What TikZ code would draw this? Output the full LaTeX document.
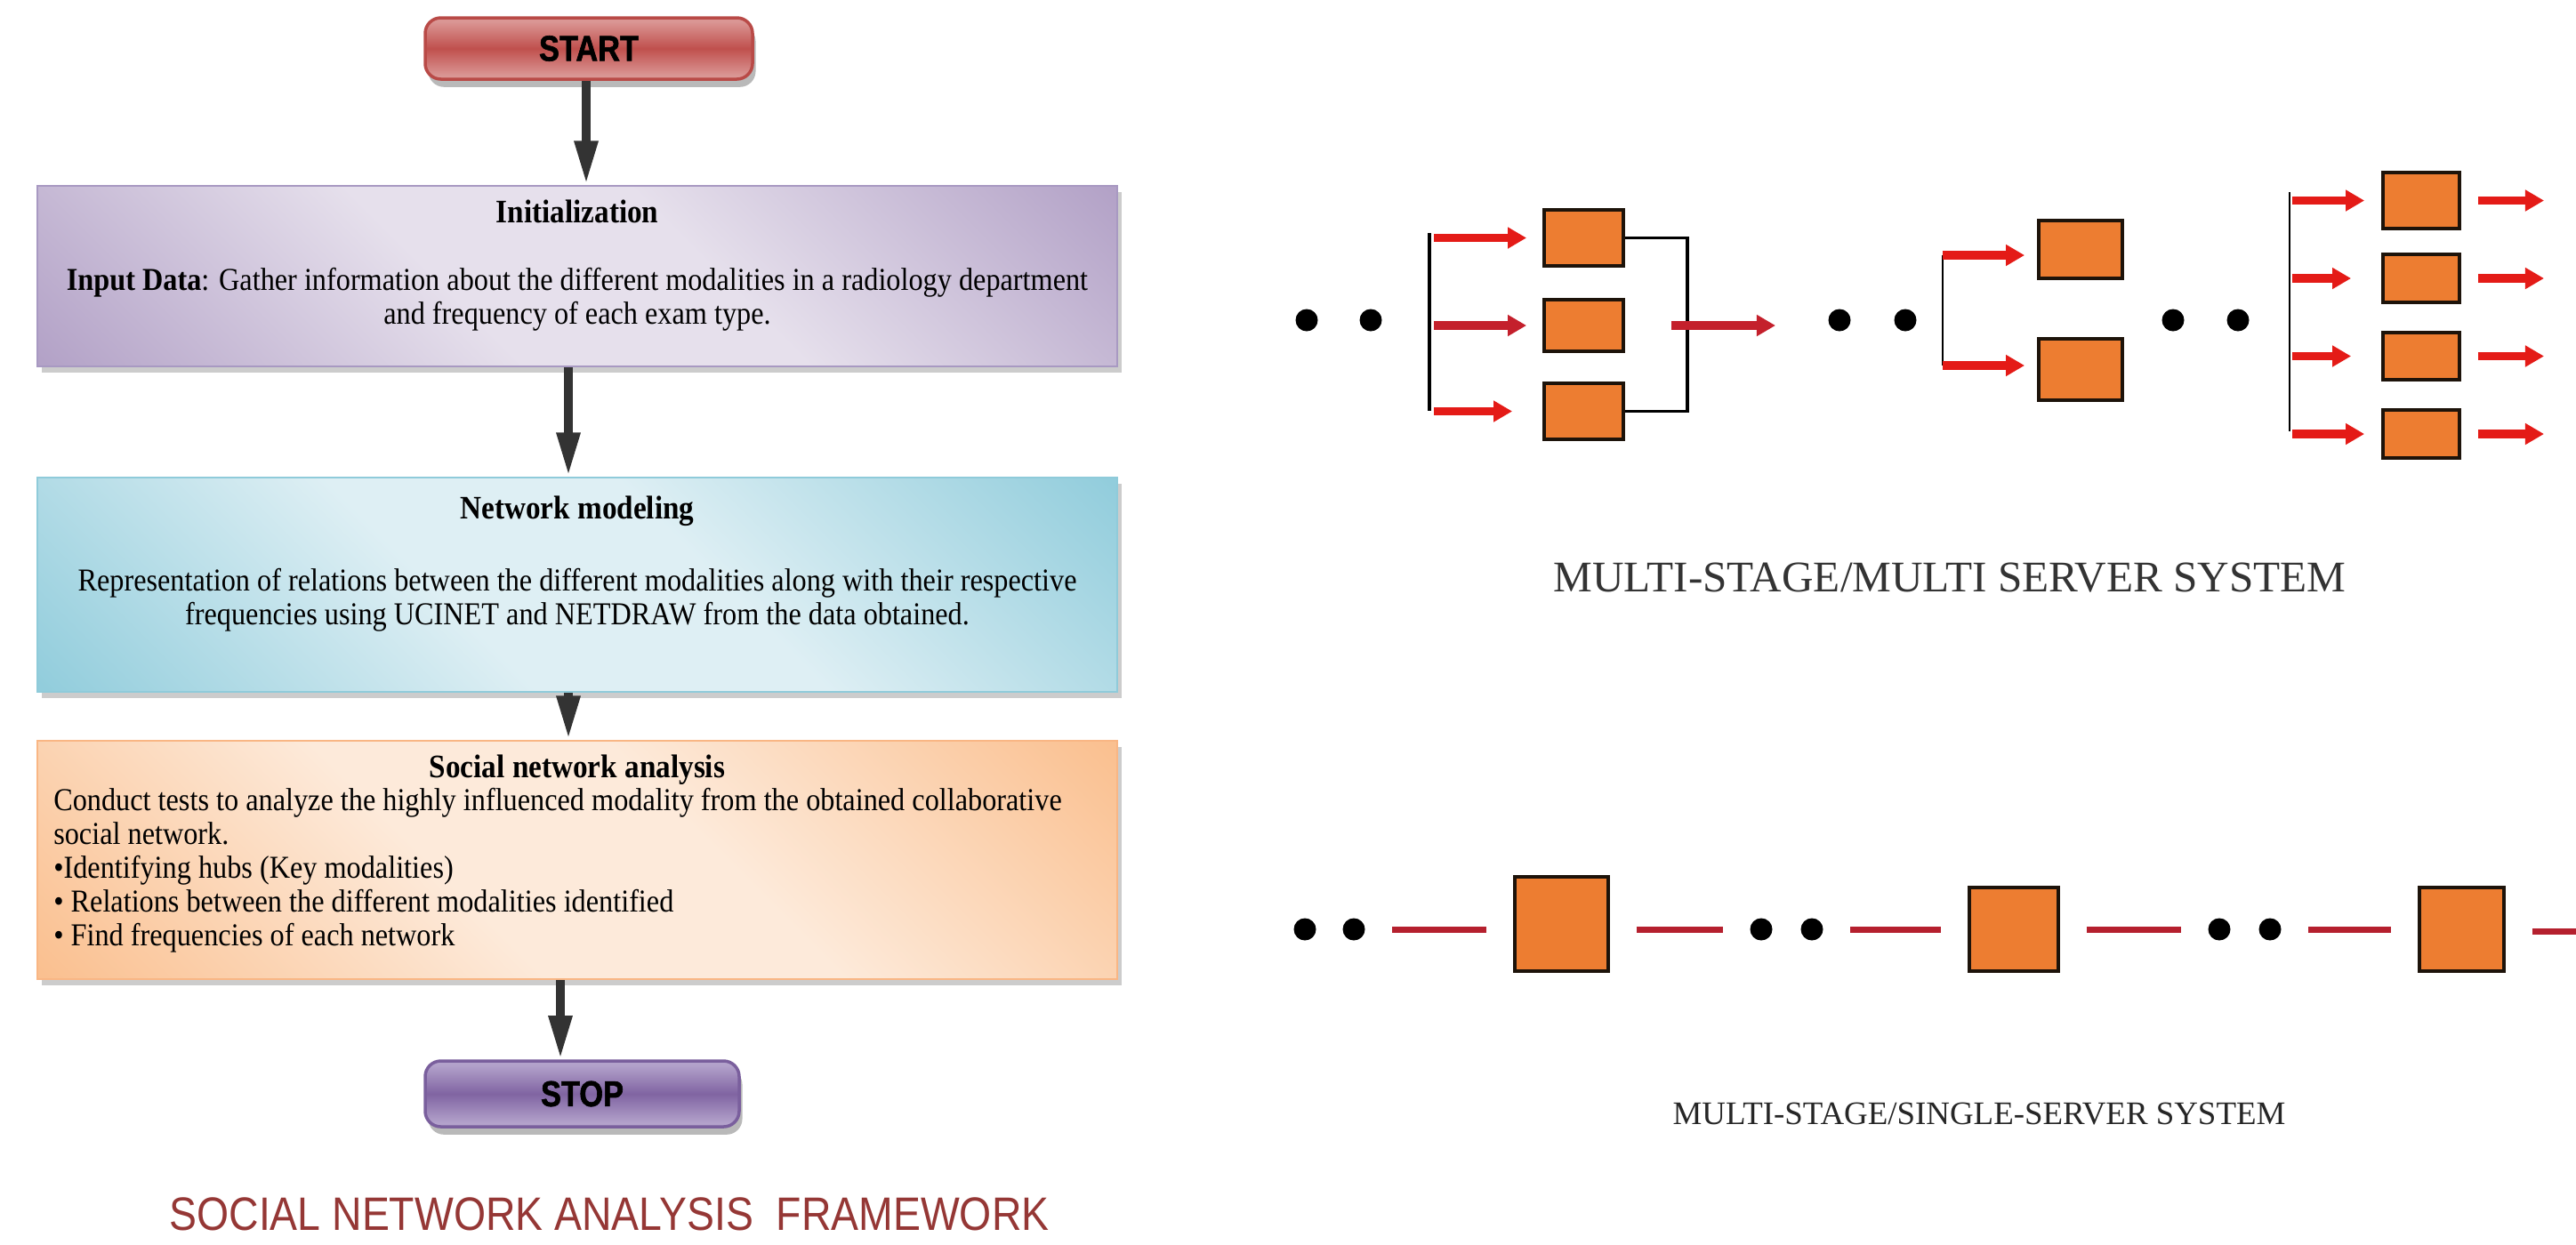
\documentclass[tikz,border=0pt]{standalone}
\usepackage{fontspec}
\setmainfont{Liberation Serif}
\newfontfamily\bodyfont[FakeStretch=0.9]{Liberation Serif}
\newfontfamily\termfont[FakeStretch=0.85, BoldFeatures={FakeBold=1.5}]{Liberation Sans}
\newfontfamily\capfont[FakeStretch=0.88]{Liberation Sans}
\usetikzlibrary{positioning,arrows.meta,shadows,calc}
\tikzset {>=Stealth}

\definecolor{initdark}{HTML}{B3A2C7}
\definecolor{initlight}{HTML}{E6E0EC}
\definecolor{initedge}{HTML}{A899C2}
\definecolor{netdark}{HTML}{92CDDC}
\definecolor{netlight}{HTML}{DEEFF4}
\definecolor{netedge}{HTML}{8FCBDA}
\definecolor{snadark}{HTML}{FAC090}
\definecolor{snalight}{HTML}{FDEADA}
\definecolor{snaedge}{HTML}{F9B684}
\definecolor{startlight}{HTML}{DA9694}
\definecolor{startmid}{HTML}{C0504D}
\definecolor{startedge}{HTML}{B94A47}
\definecolor{stoplight}{HTML}{B3A2CB}
\definecolor{stopmid}{HTML}{8064A2}
\definecolor{stopedge}{HTML}{7A5F9D}
\definecolor{servorange}{HTML}{ED7D31}
\definecolor{arrowred}{HTML}{E41B17}
\definecolor{arrowdark}{HTML}{C4202C}
\definecolor{linered}{HTML}{B5202E}
\definecolor{capred}{HTML}{953735}

\pgfdeclarehorizontalshading{initband}{100bp}{color(0bp)=(initdark); color(15bp)=(initdark); color(42bp)=(initlight); color(58bp)=(initlight); color(85bp)=(initdark); color(100bp)=(initdark)}
\pgfdeclarehorizontalshading{netband}{100bp}{color(0bp)=(netdark); color(15bp)=(netdark); color(42bp)=(netlight); color(58bp)=(netlight); color(85bp)=(netdark); color(100bp)=(netdark)}
\pgfdeclarehorizontalshading{snaband}{100bp}{color(0bp)=(snadark); color(15bp)=(snadark); color(42bp)=(snalight); color(58bp)=(snalight); color(85bp)=(snadark); color(100bp)=(snadark)}
\pgfdeclareverticalshading{startbar}{100bp}{color(0bp)=(startlight); color(28bp)=(startlight); color(50bp)=(startmid); color(72bp)=(startlight); color(100bp)=(startlight)}
\pgfdeclareverticalshading{stopbar}{100bp}{color(0bp)=(stoplight); color(28bp)=(stoplight); color(50bp)=(stopmid); color(72bp)=(stoplight); color(100bp)=(stoplight)}

\begin{document}
\begin{tikzpicture}[y=-1cm,
  flowbox/.style={draw, shade, shading angle=45, line width=0.8pt, minimum width=12.14cm,
    drop shadow={shadow xshift=1.5pt, shadow yshift=-2pt, fill=black!40}},
  termbox/.style={draw, shade, rounded corners=5pt, line width=1pt,
    font=\termfont\bfseries\fontsize{11.5}{13}\selectfont,
    drop shadow={shadow xshift=1pt, shadow yshift=-2.5pt, fill=black!55}},
  heading/.style={font=\bodyfont\bfseries\fontsize{10.5}{12}\selectfont, inner sep=0pt},
  bodytext/.style={font=\bodyfont\fontsize{10.2}{10.8}\selectfont, inner sep=0pt},
  flowarrow/.style={draw=black!80, line width=2.8pt, -{Triangle[length=14pt,width=7pt]}},
  server/.style={draw=black!85!brown, fill=servorange, line width=1.1pt},
  dot/.style={circle, fill=black, inner sep=0pt, minimum size=0.25cm},
  redarrow/.style={draw=arrowred, line width=2.6pt, -{Triangle[length=6pt,width=6.5pt]}},
  redline/.style={draw=linered, line width=2pt, shorten <=0.3cm, shorten >=0.3cm},
  bracket/.style={draw=black, line width=1.2pt}]
\useasboundingbox (0,0) rectangle (28.96,13.99);

% flow chart
\node[termbox, shading=startbar, draw=startedge, minimum width=3.68cm, minimum height=0.69cm] (start) at (6.62,0.545) {START};

\node[flowbox, shading=initband, draw=initedge, minimum height=2.03cm] (init) at (6.49,3.105) {};
\node[heading, below=0.17cm of init.north] (inittitle) {Initialization};
\node[bodytext, align=center, below=0.93cm of init.north] (initbody)
  {\textbf{Input Data}: Gather information about the different modalities in a radiology department\\
   and frequency of each exam type.};

\node[flowbox, shading=netband, draw=netedge, minimum height=2.41cm] (net) at (6.49,6.575) {};
\node[heading, below=0.22cm of net.north] (nettitle) {Network modeling};
\node[bodytext, align=center, below=1.03cm of net.north] (netbody)
  {Representation of relations between the different modalities along with their respective\\
   frequencies using UCINET and NETDRAW from the data obtained.};

\node[flowbox, shading=snaband, draw=snaedge, minimum height=2.68cm] (sna) at (6.49,9.67) {};
\node[heading, below=0.17cm of sna.north] (snatitle) {Social network analysis};
\node[bodytext, align=left, below right=0.54cm and 0.19cm of sna.north west] (snabody)
  {Conduct tests to analyze the highly influenced modality from the obtained collaborative\\
   social network.\\
   \textbullet Identifying hubs (Key modalities)\\
   \textbullet{} Relations between the different modalities identified\\
   \textbullet{} Find frequencies of each network};

\node[termbox, shading=stopbar, draw=stopedge, minimum width=3.53cm, minimum height=0.74cm] (stop) at (6.545,12.30) {STOP};

\draw[flowarrow] ([xshift=-0.3mm]start.south) -- ([xshift=-0.3mm]start.south |- init.north);
\draw[flowarrow] ([xshift=-1mm]init.south) -- ([xshift=-1mm]net.north);
\draw[flowarrow] ([xshift=-1mm]net.south) -- ([xshift=-1mm]sna.north);
\draw[flowarrow] ([xshift=-1.9mm]sna.south) -- ([xshift=-1.9mm]sna.south |- stop.north);

\node[font=\capfont\fontsize{15}{18}\selectfont, text=capred] (framecap) at (6.85,13.65)
  {SOCIAL NETWORK ANALYSIS\ \ FRAMEWORK};

% multi-stage / multi server
\node[dot] (d1a) at (14.69,3.60) {};
\node[dot] (d1b) at (15.41,3.60) {};
\coordinate (b1t) at (16.07,2.62);
\coordinate (b1b) at (16.07,4.62);
\draw[bracket] (b1t) -- (b1b);
\node[server, minimum width=0.89cm, minimum height=0.63cm] (m1a) at (17.805,2.675) {};
\node[server, minimum width=0.89cm, minimum height=0.58cm] (m1b) at (17.805,3.66) {};
\node[server, minimum width=0.89cm, minimum height=0.63cm] (m1c) at (17.805,4.625) {};
\draw[redarrow, shorten >=0.18cm] ([xshift=0.5mm]b1t |- m1a) -- (m1a);
\draw[redarrow, draw=arrowdark, shorten >=0.18cm] ([xshift=0.5mm]b1t |- m1b) -- (m1b);
\draw[redarrow, shorten >=0.34cm] ([xshift=0.5mm]b1t |- m1c) -- (m1c);
\coordinate (r1) at (18.97,3.60);
\draw[bracket, line width=1pt] (m1a.east) -| (r1) |- (m1c.east);
\coordinate (o1) at (19.96,3.66);
\draw[redarrow, draw=arrowdark] ([xshift=0.52cm]m1b.east) -- (o1);

\node[dot] (d2a) at (20.68,3.60) {};
\node[dot] (d2b) at (21.42,3.60) {};
\coordinate (b2t) at (21.84,2.87);
\coordinate (b2b) at (21.84,4.11);
\draw[bracket, line width=0.8pt] (b2t) -- (b2b);
\node[server, minimum width=0.94cm, minimum height=0.65cm] (m2a) at (23.39,2.805) {};
\node[server, minimum width=0.94cm, minimum height=0.69cm] (m2b) at (23.39,4.155) {};
\draw[redarrow, shorten >=0.14cm] (b2t) -- (b2t -| m2a.west);
\draw[redarrow, shorten >=0.14cm] (b2b) -- (b2b -| m2b.west);

\node[dot] (d3a) at (24.43,3.60) {};
\node[dot] (d3b) at (25.16,3.60) {};
\coordinate (b3t) at (25.74,2.16);
\coordinate (b3b) at (25.74,4.85);
\draw[bracket, line width=0.8pt] (b3t) -- (b3b);
\node[server, minimum width=0.86cm, minimum height=0.63cm] (m3a) at (27.22,2.255) {};
\node[server, minimum width=0.86cm, minimum height=0.54cm] (m3b) at (27.22,3.13) {};
\node[server, minimum width=0.86cm, minimum height=0.53cm] (m3c) at (27.22,4.005) {};
\node[server, minimum width=0.86cm, minimum height=0.54cm] (m3d) at (27.22,4.88) {};
\draw[redarrow, shorten >=0.19cm] ([xshift=0.3mm]b3t |- m3a) -- (m3a);
\draw[redarrow, shorten >=0.34cm] ([xshift=0.3mm]b3t |- m3b) -- (m3b);
\draw[redarrow, shorten >=0.34cm] ([xshift=0.3mm]b3t |- m3c) -- (m3c);
\draw[redarrow, shorten >=0.19cm] ([xshift=0.3mm]b3t |- m3d) -- (m3d);
\coordinate (o3a) at (28.60,2.255);
\coordinate (o3b) at (28.60,3.13);
\coordinate (o3c) at (28.60,4.005);
\coordinate (o3d) at (28.60,4.88);
\draw[redarrow, shorten <=0.19cm] (m3a) -- (o3a);
\draw[redarrow, shorten <=0.19cm] (m3b) -- (o3b);
\draw[redarrow, shorten <=0.19cm] (m3c) -- (o3c);
\draw[redarrow, shorten <=0.19cm] (m3d) -- (o3d);

\node[font=\fontsize{14}{16}\selectfont, text=black!80] (multicap) at (21.92,6.50)
  {MULTI-STAGE/MULTI SERVER SYSTEM};

% multi-stage / single server
\node[dot] (sd1a) at (14.67,10.45) {};
\node[dot] (sd1b) at (15.22,10.45) {};
\node[server, minimum width=1.05cm, minimum height=1.06cm] (s1) at (17.555,10.39) {};
\node[dot] (sd2a) at (19.80,10.45) {};
\node[dot] (sd2b) at (20.37,10.45) {};
\node[server, minimum width=1.00cm, minimum height=0.94cm] (s2) at (22.64,10.45) {};
\node[dot] (sd3a) at (24.95,10.45) {};
\node[dot] (sd3b) at (25.52,10.45) {};
\node[server, minimum width=0.95cm, minimum height=0.94cm] (s3) at (27.675,10.45) {};
\coordinate (send) at (28.96,10.47);
\draw[redline] (sd1b) -- (sd1b -| s1.west);
\draw[redline] (sd1b -| s1.east) -- (sd2a);
\draw[redline] (sd2b) -- (s2);
\draw[redline] (s2) -- (sd3a);
\draw[redline] (sd3b) -- (s3);
\draw[redline, shorten >=0pt] (s3.east |- send) -- (send);

\node[font=\fontsize{10.5}{12}\selectfont, text=black!85] (singlecap) at (22.25,12.53)
  {MULTI-STAGE/SINGLE-SERVER SYSTEM};
\end{tikzpicture}
\end{document}
